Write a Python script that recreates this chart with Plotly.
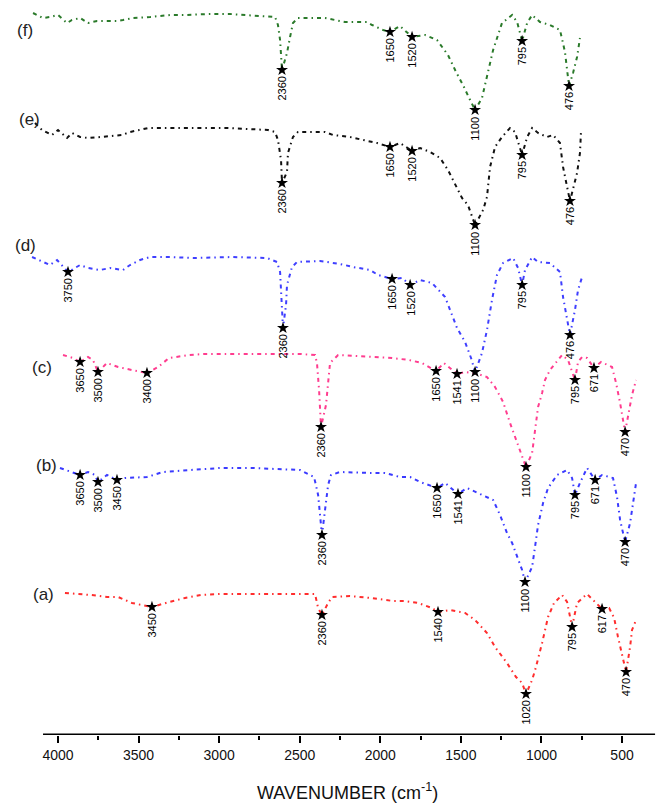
import plotly.graph_objects as go

# ---------------- data (wavenumber in cm-1, transmittance offset in a.u.) ----------------
A_WN = [3957, 3795, 3696, 3627, 3541, 3417, 3311, 3212, 3113, 2995, 2846, 2666, 2405, 2386, 2362,
        2324, 2300, 2188, 2057, 1921, 1847, 1766, 1679, 1642, 1567, 1474, 1412, 1338, 1288, 1214,
        1158, 1120, 1096, 1058, 1034, 996, 959, 922, 872, 841, 810, 779, 717, 624, 580, 549, 525,
        475, 450, 438, 413]
A_T = [142, 140, 138, 138, 132, 128, 133, 137, 140, 141, 141, 141, 141, 127, 120,
       132, 138, 139, 137, 134, 134, 132, 127, 123, 125, 122, 115, 102, 88, 72,
       58, 52, 41, 55, 68, 92, 118, 132, 140, 133, 108, 132, 141, 126, 127, 117, 98,
       63, 88, 105, 115]
A_PK_WN = [3417, 2362, 1642, 1096, 810, 624, 475]
A_PK_T = [128, 120, 123, 41, 108, 126, 63]
A_PK_LBL = ["3450", "2360", "1540", "1020", "795", "617", "470"]

B_WN = [3988, 3913, 3863, 3814, 3770, 3752, 3696, 3634, 3584, 3448, 3348, 3181, 2995, 2790, 2498,
        2411, 2386, 2362, 2337, 2324, 2306, 2250, 2064, 1971, 1878, 1815, 1753, 1648, 1598, 1518,
        1462, 1393, 1300, 1257, 1214, 1182, 1151, 1120, 1102, 1058, 1040, 1021, 990, 959, 903,
        841, 810, 792, 761, 717, 667, 624, 556, 531, 512, 481, 450, 431, 413]
B_T = [267, 263, 260, 263, 260, 253, 260, 255, 257, 258, 263, 265, 267, 267, 265,
       258, 240, 200, 230, 250, 260, 263, 262, 262, 258, 258, 253, 247, 252, 241,
       247, 242, 235, 220, 202, 192, 178, 165, 153, 168, 188, 210, 232, 247, 260,
       265, 257, 240, 252, 267, 255, 260, 257, 238, 215, 193, 212, 232, 252]
B_PK_WN = [3863, 3752, 3634, 2362, 1648, 1518, 1102, 792, 667, 481]
B_PK_T = [260, 253, 255, 200, 247, 241, 153, 240, 255, 193]
B_PK_LBL = ["3650", "3500", "3450", "2360", "1650", "1541", "1100", "795", "671", "470"]

C_WN = [3969, 3907, 3863, 3814, 3783, 3752, 3696, 3627, 3541, 3448, 3379, 3311, 3187, 3088, 2858,
        2498, 2405, 2393, 2380, 2368, 2337, 2324, 2312, 2262, 2064, 1927, 1822, 1741, 1654, 1605,
        1524, 1474, 1393, 1338, 1288, 1238, 1195, 1164, 1133, 1096, 1058, 1040, 1021, 996, 978,
        947, 872, 835, 792, 773, 748, 717, 674, 630, 562, 537, 512, 481, 456, 438, 413]
C_T = [380, 377, 373, 378, 375, 363, 372, 368, 365, 362, 368, 377, 380, 381, 381,
       381, 380, 372, 345, 308, 330, 350, 372, 380, 378, 377, 375, 372, 364, 372,
       361, 363, 361, 358, 348, 333, 312, 298, 285, 268, 282, 302, 328, 342, 355,
       365, 380, 375, 355, 373, 378, 377, 367, 373, 368, 352, 332, 303, 325, 340, 355]
C_PK_WN = [3863, 3752, 3448, 2368, 1654, 1524, 1096, 792, 674, 481]
C_PK_T = [373, 363, 362, 308, 364, 361, 268, 355, 367, 303]
C_PK_LBL = ["3650", "3500", "3400", "2360", "1650", "1541", "1100", "795", "671", "470"]

D_WN = [4161, 4093, 4050, 4006, 3938, 3863, 3814, 3739, 3677, 3597, 3553, 3491, 3429, 3305, 3162,
        2914, 2703, 2641, 2622, 2604, 2585, 2579, 2548, 2517, 2374, 2250, 2169, 2064, 2014, 1927,
        1865, 1815, 1753, 1679, 1598, 1567, 1524, 1474, 1437, 1412, 1369, 1338, 1307, 1276, 1238,
        1176, 1145, 1120, 1102, 1058, 1021, 947, 885, 866, 841, 823, 792, 773, 748]
D_T = [478, 473, 470, 475, 463, 470, 467, 465, 467, 465, 470, 475, 478, 478, 477,
       478, 477, 473, 463, 407, 430, 450, 468, 473, 474, 471, 468, 465, 460, 456,
       457, 450, 455, 452, 438, 425, 407, 393, 377, 363, 382, 405, 435, 460, 472,
       477, 467, 450, 465, 478, 473, 472, 463, 438, 415, 400, 425, 445, 458]
D_PK_WN = [3938, 2604, 1927, 1815, 1412, 1120, 823]
D_PK_T = [463, 407, 456, 450, 363, 450, 400]
D_PK_LBL = ["3750", "2360", "1650", "1520", "1100", "795", "476"]

E_WN = [4143, 4099, 4037, 4000, 3944, 3913, 3863, 3814, 3739, 3603, 3553, 3441, 3317, 3224, 3106,
        2945, 2697, 2653, 2635, 2616, 2610, 2579, 2573, 2542, 2511, 2343, 2293, 2188, 2107, 2020,
        1940, 1878, 1803, 1753, 1691, 1629, 1580, 1536, 1493, 1456, 1412, 1362, 1338, 1319, 1288,
        1245, 1195, 1164, 1120, 1089, 1058, 1021, 965, 928, 885, 866, 841, 823, 779, 761, 755]
E_T = [612, 605, 600, 605, 597, 602, 598, 597, 598, 600, 603, 607, 607, 607, 607,
       607, 605, 603, 595, 575, 552, 563, 582, 598, 603, 603, 600, 598, 595, 592,
       588, 592, 584, 587, 583, 577, 565, 550, 537, 530, 510, 525, 538, 568, 588,
       598, 607, 603, 580, 598, 607, 602, 598, 600, 592, 568, 548, 534, 562, 582, 602]
E_PK_WN = [2610, 1940, 1803, 1412, 1120, 823]
E_PK_T = [552, 588, 584, 510, 580, 534]
E_PK_LBL = ["2360", "1650", "1520", "1100", "795", "476"]

F_WN = [4155, 4093, 4050, 4000, 3944, 3913, 3863, 3814, 3758, 3634, 3597, 3535, 3429, 3305, 3212,
        3057, 2933, 2697, 2653, 2635, 2622, 2610, 2579, 2560, 2542, 2511, 2343, 2219, 2082, 2051,
        1983, 1940, 1878, 1803, 1722, 1648, 1580, 1530, 1487, 1443, 1412, 1369, 1338, 1300, 1245,
        1182, 1151, 1120, 1089, 1058, 1009, 947, 885, 854, 829, 804, 779, 761]
F_T = [722, 717, 718, 720, 712, 715, 717, 712, 714, 714, 715, 717, 718, 720, 720,
       721, 721, 719, 718, 710, 695, 665, 682, 698, 712, 717, 717, 713, 713, 710,
       705, 703, 709, 698, 700, 695, 680, 663, 650, 635, 625, 637, 658, 685, 712,
       720, 713, 694, 712, 720, 713, 710, 705, 683, 649, 662, 678, 697]
F_PK_WN = [2610, 1940, 1803, 1412, 1120, 829]
F_PK_T = [665, 703, 698, 625, 694, 649]
F_PK_LBL = ["2360", "1650", "1520", "1100", "795", "476"]

SERIES_NAMES = ["(a)", "(b)", "(c)", "(d)", "(e)", "(f)"]
TICK_VALS = [4000, 3500, 3000, 2500, 2000, 1500, 1000, 500]
TICK_TEXT = ["4000", "3500", "3000", "2500", "2000", "1500", "1000", "500"]
MINOR_TICK_VALS = [3750, 3250, 2750, 2250, 1750, 1250, 750]

# ---------------- styling ----------------
COLORS = ["#ff2d2d", "#3a3aff", "#ff3d8f", "#3f3fff", "#111111", "#2a7a2a"]
NAME_POS = [(4087, 141), (4074, 270), (4099, 368), (4199, 490), (4180, 616), (4205, 705)]
FONT = "Liberation Sans, Arial, sans-serif"

series = [
    (A_WN, A_T, A_PK_WN, A_PK_T, A_PK_LBL),
    (B_WN, B_T, B_PK_WN, B_PK_T, B_PK_LBL),
    (C_WN, C_T, C_PK_WN, C_PK_T, C_PK_LBL),
    (D_WN, D_T, D_PK_WN, D_PK_T, D_PK_LBL),
    (E_WN, E_T, E_PK_WN, E_PK_T, E_PK_LBL),
    (F_WN, F_T, F_PK_WN, F_PK_T, F_PK_LBL),
]

fig = go.Figure()
annotations = []
for i, (wn, t, pk_wn, pk_t, pk_lbl) in enumerate(series):
    fig.add_trace(go.Scatter(
        x=wn, y=t, mode="lines", name=SERIES_NAMES[i],
        line=dict(color=COLORS[i], width=2, dash="4px,4px,1.5px,4px"),
        cliponaxis=False, showlegend=False))
    fig.add_trace(go.Scatter(
        x=pk_wn, y=pk_t, mode="markers",
        marker=dict(symbol="star", size=9, color="black"),
        cliponaxis=False, showlegend=False))
    for xw, yt, lbl in zip(pk_wn, pk_t, pk_lbl):
        annotations.append(dict(
            x=xw, y=yt, xref="x", yref="y", text=lbl, showarrow=False,
            textangle=-90, xanchor="center", yanchor="middle",
            yshift=-(5 + len(lbl) * 3.4),
            font=dict(family=FONT, size=11, color="black")))
    nx, ny = NAME_POS[i]
    annotations.append(dict(
        x=nx, y=ny, xref="x", yref="y", text=SERIES_NAMES[i], showarrow=False,
        xanchor="center", yanchor="middle",
        font=dict(family=FONT, size=17, color="#222222")))

annotations.append(dict(
    x=347 / 657, y=-56 / 735, xref="paper", yref="paper",
    text="WAVENUMBER (cm<sup>-1</sup>)", showarrow=False,
    xanchor="center", yanchor="middle",
    font=dict(family=FONT, size=18, color="#111111")))

fig.update_layout(
    width=657, height=803,
    margin=dict(l=0, r=0, t=0, b=68),
    paper_bgcolor="white", plot_bgcolor="white",
    annotations=annotations,
    shapes=[dict(type="line", xref="x", yref="y", x0=4093, x1=295, y0=0, y1=0,
                 line=dict(color="black", width=3))],
    xaxis=dict(
        range=[4360, 283], showgrid=False, zeroline=False, showline=False,
        tickmode="array", tickvals=TICK_VALS, ticktext=TICK_TEXT,
        ticks="outside", ticklen=7, tickwidth=2, tickcolor="black",
        tickfont=dict(family=FONT, size=14, color="#111111"),
        minor=dict(tickmode="array", tickvals=MINOR_TICK_VALS, ticks="outside",
                   ticklen=4, tickwidth=1.5, tickcolor="black"),
    ),
    yaxis=dict(range=[0, 735], visible=False, showgrid=False, zeroline=False),
)

fig.write_html("out.html")
